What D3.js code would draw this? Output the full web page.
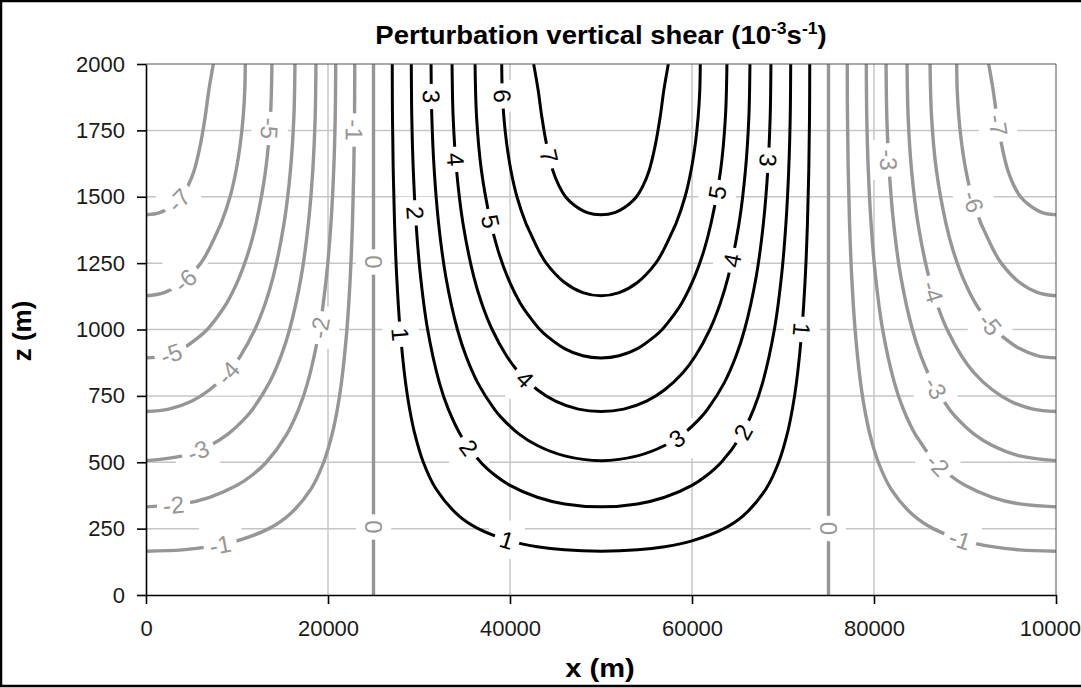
<!DOCTYPE html>
<html>
<head>
<meta charset="utf-8">
<script src="https://cdn.jsdelivr.net/npm/d3@7"></script>
<style>
  body { margin: 0; background: #fff; }
  svg { display: block; font-family: "Liberation Sans", Arial, sans-serif; }
</style>
</head>
<body>
<svg id="chart" width="1081" height="688"></svg>
<script>
// ---- contour data (x in m, z in m) ----
const levels = [1, 2, 3, 4, 5, 6, 7];

// heights of the sample points along each level, from the top of the domain downwards
const zSamples = [
  [2000,1800,1600,1400,1200,1000,800,700,600,500,400,300,250,204,182,170,165],
  [2000,1800,1600,1400,1200,1000,800,700,600,500,450,413,368,343,332],
  [2000,1800,1600,1400,1200,1000,900,800,700,670,606,563,524,506],
  [2000,1800,1600,1400,1200,1100,1000,900,837,773,730,700,691],
  [2000,1800,1600,1400,1300,1200,1100,1055,1000,977,928,901,893],
  [2000,1900,1800,1700,1600,1500,1400,1381,1300,1249,1177,1139,1127],
  [2000,1900,1800,1700,1600,1540,1500,1470,1440,1432]
];

// positive levels: left limb of the U
const xInnerLeft = [
  [27059,27085,27166,27313,27549,27921,28522,28971,29587,30474,31858,34323,36498,40000,43000,46000,50000],
  [29154,29207,29373,29677,30167,30947,32236,33222,34621,36779,38390,40000,43000,46000,50000],
  [31327,31410,31673,32154,32941,34220,35164,36443,38280,39000,41000,43000,46000,50000],
  [33633,33752,34126,34829,36012,36880,38037,39629,41000,43000,45000,47500,50000],
  [36162,36328,36856,37906,38667,39700,41115,42000,43278,44000,46000,48000,50000],
  [39088,39146,39325,39634,40096,40763,41746,42000,43115,44000,46000,48000,50000],
  [42600,43100,43500,44000,44700,45400,46100,47000,48500,50000]
];
// positive levels: right limb of the U
const xInnerRight = [
  [72941,72915,72834,72687,72451,72079,71478,71029,70413,69526,68142,65677,63502,60000,57000,54000,50000],
  [70846,70793,70627,70323,69833,69053,67764,66778,65379,63221,61610,60000,57000,54000,50000],
  [68673,68590,68327,67846,67059,65780,64836,63557,61720,61000,59000,57000,54000,50000],
  [66367,66248,65874,65171,63988,63120,61963,60371,59000,57000,55000,52500,50000],
  [63838,63672,63144,62094,61333,60300,58885,58000,56722,56000,54000,52000,50000],
  [60912,60854,60675,60366,59904,59237,58254,58000,56885,56000,54000,52000,50000],
  [57400,56900,56500,56000,55300,54600,53900,53000,51500,50000]
];
// negative levels (-1 … -7): left-hand branch
const xOuterLeft = [
  [22941,22915,22834,22687,22451,22079,21478,21029,20413,19526,18142,15677,13502,10000,7000,4000,0],
  [20846,20793,20627,20323,19833,19053,17764,16778,15379,13221,11610,10000,7000,4000,0],
  [18673,18590,18327,17846,17059,15780,14836,13557,11720,11000,9000,7000,4000,0],
  [16367,16248,15874,15171,13988,13120,11963,10371,9000,7000,5000,2500,0],
  [13838,13672,13144,12094,11333,10300,8885,8000,6722,6000,4000,2000,0],
  [10912,10854,10675,10366,9904,9237,8254,8000,6885,6000,4000,2000,0],
  [7400,6900,6500,6000,5300,4600,3900,3000,1500,0]
];
// negative levels (-1 … -7): right-hand branch
const xOuterRight = [
  [77059,77085,77166,77313,77549,77921,78522,78971,79587,80474,81858,84323,86498,90000,93000,96000,100000],
  [79154,79207,79373,79677,80167,80947,82236,83222,84621,86779,88390,90000,93000,96000,100000],
  [81327,81410,81673,82154,82941,84220,85164,86443,88280,89000,91000,93000,96000,100000],
  [83633,83752,84126,84829,86012,86880,88037,89629,91000,93000,95000,97500,100000],
  [86162,86328,86856,87906,88667,89700,91115,92000,93278,94000,96000,98000,100000],
  [89088,89146,89325,89634,90096,90763,91746,92000,93115,94000,96000,98000,100000],
  [92600,93100,93500,94000,94700,95400,96100,97000,98500,100000]
];
// zero level: two vertical lines
const zeroLineX = [25000, 75000];

// axes
const xTicks = [0, 20000, 40000, 60000, 80000, 100000];
const zTicks = [0, 250, 500, 750, 1000, 1250, 1500, 1750, 2000];

// contour labels: text, line id, approximate spot (x, z)
const labelText = ["3","6","7","4","2","5","1","4","2","1","3","2","1","3","5","4",
  "-7","-5","-1","-6","0","-2","-5","-4","-3","-2","-1","0",
  "-7","-3","-6","-4","-5","-3","-2","-1","0"];
const labelLine = ["p3","p6","p7","p4","p2","p5","p1","p4","p2","p1","p3","p2","p1","p3","p5","p4",
  "nL7","nL5","nL1","nL6","zL","nL2","nL5","nL4","nL3","nL2","nL1","zL",
  "nR7","nR3","nR6","nR4","nR5","nR3","nR2","nR1","zR"];
const labelX = [30300,38000,44000,33200,28800,37000,27000,41300,34870,39640,58500,65600,72200,68300,63100,64300,
  3590,13600,22900,4100,25000,19500,2824,9044,5747,3000,8132,25000,
  92800,81200,90300,86000,92200,86400,86600,89450,75000];
const labelZ = [1877,1877,1651,1638,1437,1400,979,803,540,207,584,614,1000,1638,1514,1262,
  1488,1758,1751,1193,1255,1005,904,835,540,345,195,257,
  1764,1638,1475,1136,1005,772,477,207,251];

// ---- drawing ----
const W = 1081, H = 688;
const plot = { left: 146, right: 1056, top: 64, bottom: 595 };
const BLACK = "#000", GREY = "#969696", GRID = "#c6c6c6";

const svg = d3.select("#chart");
svg.append("rect").attr("width", W).attr("height", H).attr("fill", "#fff");

const x = d3.scaleLinear().domain([0, 100000]).range([plot.left, plot.right]);
const z = d3.scaleLinear().domain([0, 2000]).range([plot.bottom, plot.top]);

// gridlines
const grid = svg.append("g");
grid.selectAll(".gx").data(xTicks.slice(1, -1)).join("line")
  .attr("x1", d => x(d)).attr("x2", d => x(d))
  .attr("y1", plot.top).attr("y2", plot.bottom)
  .attr("stroke", GRID).attr("stroke-width", 1.5);
grid.selectAll(".gz").data(zTicks.slice(1, -1)).join("line")
  .attr("x1", plot.left).attr("x2", plot.right)
  .attr("y1", d => z(d)).attr("y2", d => z(d))
  .attr("stroke", GRID).attr("stroke-width", 1.5);

const gridMask = svg.append("g");

svg.append("clipPath").attr("id", "plotClip").append("rect")
  .attr("x", plot.left).attr("y", plot.top)
  .attr("width", plot.right - plot.left).attr("height", plot.bottom - plot.top);

const contourG = svg.append("g").attr("clip-path", "url(#plotClip)");
const line = d3.line().x(d => x(d[0])).y(d => z(d[1])).curve(d3.curveCatmullRom.alpha(0.5));

const paths = {};
levels.forEach((lv, i) => {
  const zs = zSamples[i];
  const left = zs.map((zz, j) => [xInnerLeft[i][j], zz]);
  const right = zs.map((zz, j) => [xInnerRight[i][j], zz]).reverse().slice(1);
  paths["p" + lv] = { pts: left.concat(right), color: BLACK, w: 3 };
  paths["nL" + lv] = { pts: zs.map((zz, j) => [xOuterLeft[i][j], zz]), color: GREY, w: 3.4 };
  paths["nR" + lv] = { pts: zs.map((zz, j) => [xOuterRight[i][j], zz]), color: GREY, w: 3.4 };
});
paths.zL = { pts: [[zeroLineX[0], 2000], [zeroLineX[0], 0]], color: GREY, w: 3.4 };
paths.zR = { pts: [[zeroLineX[1], 2000], [zeroLineX[1], 0]], color: GREY, w: 3.4 };

Object.keys(paths).forEach(k => {
  const p = paths[k];
  p.node = contourG.append("path")
    .attr("d", line(p.pts))
    .attr("fill", "none")
    .attr("stroke", p.color)
    .attr("stroke-width", p.w)
    .attr("stroke-linejoin", "round")
    .node();
});

// labels sit on their line, turned along it, on a white patch
const labelG = svg.append("g");
const FS = 24;
labelText.forEach((t, i) => {
  const p = paths[labelLine[i]];
  const node = p.node;
  const len = node.getTotalLength();
  const tx = x(labelX[i]), ty = z(labelZ[i]);
  let best = 0, bestD = Infinity;
  for (let l = 0; l <= len; l += 0.5) {
    const q = node.getPointAtLength(l);
    const d = (q.x - tx) ** 2 + (q.y - ty) ** 2;
    if (d < bestD) { bestD = d; best = l; }
  }
  const c = node.getPointAtLength(best);
  const a = node.getPointAtLength(Math.max(0, best - 3));
  const b = node.getPointAtLength(Math.min(len, best + 3));
  let ang = Math.atan2(b.y - a.y, b.x - a.x) * 180 / Math.PI;
  while (ang > 90) ang -= 180;
  while (ang <= -90) ang += 180;
  // near-vertical labels read downwards
  if (ang < -83) ang += 180;

  const g = labelG.append("g").attr("transform", `translate(${c.x},${c.y}) rotate(${ang})`);
  const rect = g.append("rect").attr("fill", "#fff");
  const txt = g.append("text")
    .attr("text-anchor", "middle")
    .attr("dy", "0.36em")
    .attr("font-size", FS)
    .attr("fill", p.color)
    .text(t);
  const tw = txt.node().getComputedTextLength();
  const th = FS * 0.72;
  const padA = 6, padC = 4;
  rect.attr("x", -tw / 2 - padA).attr("y", -th / 2 - padC)
    .attr("width", tw + 2 * padA).attr("height", th + 2 * padC);

  // clear the gridlines around the label
  const rad = ang * Math.PI / 180;
  const bw = Math.abs(tw * Math.cos(rad)) + Math.abs(th * Math.sin(rad));
  const bh = Math.abs(tw * Math.sin(rad)) + Math.abs(th * Math.cos(rad));
  gridMask.append("rect")
    .attr("x", c.x - bw / 2 - 9).attr("y", c.y - bh / 2 - 9)
    .attr("width", bw + 18).attr("height", bh + 18)
    .attr("fill", "#fff");
});

// plot frame (top/right)
svg.append("path")
  .attr("d", `M${plot.left},${plot.top}H${plot.right}V${plot.bottom}`)
  .attr("fill", "none").attr("stroke", "#555").attr("stroke-width", 1);

// axes
const xAxis = svg.append("g").attr("transform", `translate(0,${plot.bottom})`)
  .call(d3.axisBottom(x).tickValues(xTicks).tickFormat(d3.format("d")).tickSize(9).tickSizeOuter(0).tickPadding(16));
const zAxis = svg.append("g").attr("transform", `translate(${plot.left},0)`)
  .call(d3.axisLeft(z).tickValues(zTicks).tickFormat(d3.format("d")).tickSize(9).tickSizeOuter(0).tickPadding(12));
[xAxis, zAxis].forEach(ax => {
  ax.select(".domain").attr("stroke", "#000").attr("stroke-width", 1.6);
  ax.selectAll(".tick line").attr("stroke", "#000").attr("stroke-width", 1.6);
  ax.selectAll(".tick text").attr("font-size", 22).attr("fill", "#1a1a1a")
    .attr("font-family", "'Liberation Sans', Arial, sans-serif");
});

// title
const title = svg.append("text")
  .attr("transform", "translate(601,44) scale(1.1,1)")
  .attr("text-anchor", "middle")
  .attr("font-size", 25).attr("font-weight", "bold").attr("fill", "#000");
title.append("tspan").text("Perturbation vertical shear (10");
title.append("tspan").attr("font-size", 16).attr("dy", -10).text("-3");
title.append("tspan").attr("dy", 10).text("s");
title.append("tspan").attr("font-size", 16).attr("dy", -10).text("-1");
title.append("tspan").attr("dy", 10).text(")");

// axis titles
svg.append("text")
  .attr("transform", "translate(600,677) scale(1.12,1)")
  .attr("text-anchor", "middle")
  .attr("font-size", 26).attr("font-weight", "bold")
  .text("x (m)");
svg.append("text")
  .attr("transform", "translate(31,331) rotate(-90)")
  .attr("text-anchor", "middle")
  .attr("font-size", 26).attr("font-weight", "bold")
  .text("z (m)");

// outer frame: left, top and bottom edges (the right edge runs past the canvas)
svg.append("path")
  .attr("d", `M${W + 2},1H1V686H${W + 2}`)
  .attr("fill", "none").attr("stroke", "#000").attr("stroke-width", 2.5);
</script>
</body>
</html>
